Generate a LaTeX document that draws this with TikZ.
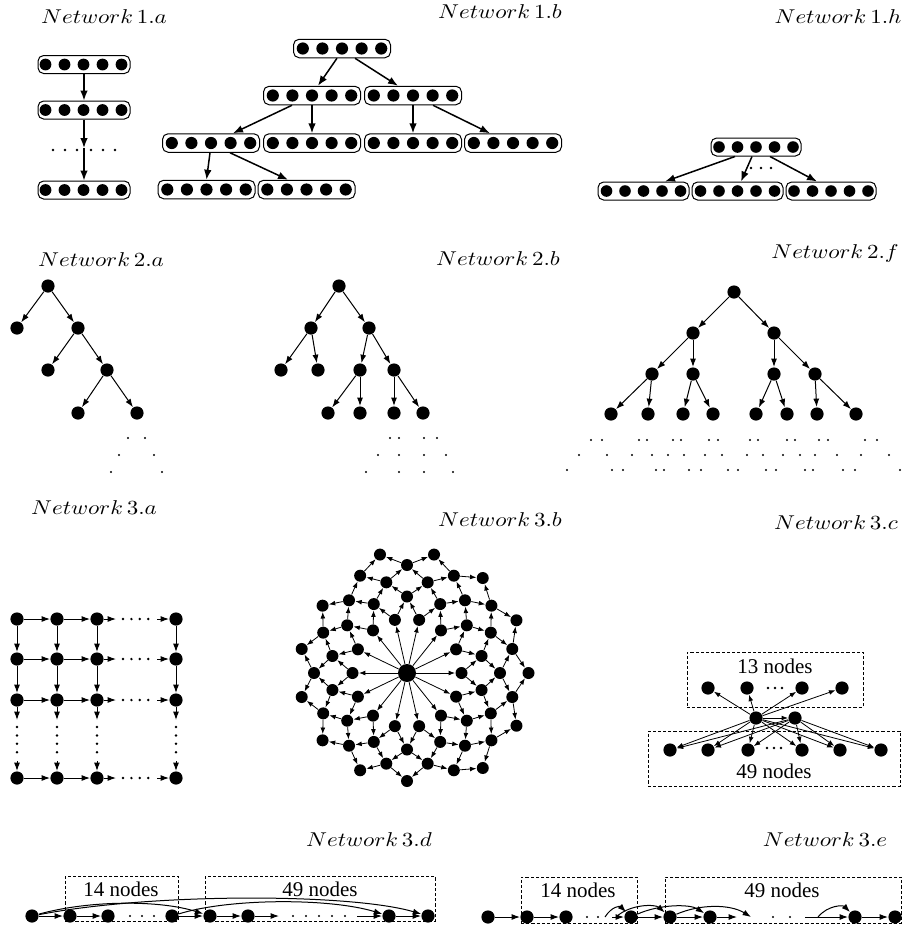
\documentclass[tikz,border=0pt]{standalone}
\usepackage{fontspec}
\newfontfamily\tnr{Liberation Serif}
\usetikzlibrary{arrows.meta}
\newcommand\ttl[1]{\scalebox{1.15}[1]{$#1$}}
\newcommand\dotrow[4]{\foreach \i in {-2,...,2}{\fill ({#1+(\i)*#3},#2) circle[radius=#4];}}
\begin{document}
\begin{tikzpicture}[x=0.5pt,y=-0.5pt,
 title/.style={inner sep=0pt},
 nbox/.style={draw, rounded corners=2.8pt, minimum height=9pt, inner sep=0pt, line width=0.5pt},
 a1/.style={-{Latex[length=5pt,width=3.8pt]}, line width=0.75pt},
 tn/.style={circle, fill, inner sep=0pt, minimum size=6.6pt},
 a2/.style={-{Latex[length=4.2pt,width=3pt]}, line width=0.5pt},
 gn/.style={circle, fill, inner sep=0pt, minimum size=6.6pt},
 a3/.style={-{Latex[length=3.2pt,width=2.4pt]}, line width=0.4pt},
 bn/.style={circle, fill, inner sep=0pt, minimum size=6pt},
 dotline/.style={line width=1.35pt, line cap=round, dash pattern=on 0pt off 4.2pt},
 dbox/.style={draw, dash pattern=on 1.6pt off 1pt, line width=0.4pt, inner sep=0pt},
 lbl/.style={inner sep=0pt, font=\tnr\fontsize{10.5}{12}\selectfont},
]
\useasboundingbox (0,0) rectangle (902,927);

% ---------------- Network 1.a
\node[title] (t1a) at (104,17) {\ttl{Network\,1.a}};
\node[nbox, minimum width=46pt] (a1) at (84,64.5) {};
\node[nbox, minimum width=46pt] (a2) at (84,110) {};
\node[nbox, minimum width=46pt] (a3) at (84,190) {};
\dotrow{83.5}{64.5}{19}{2.95pt}
\dotrow{83.5}{110}{19}{2.95pt}
\dotrow{83.5}{190}{19}{2.95pt}
\coordinate (a23) at (84,148);
\draw[a1] (a1) -- (a2);
\draw[a1] (a2) -- (a23);
\draw[a1] (a23) -- (a3);
\foreach \x in {53,65,77,91,103,115}{\fill (\x,150) circle[radius=0.65pt];}

% ---------------- Network 1.b
\node[title] (t1b) at (500,12) {\ttl{Network\,1.b}};
\foreach \n/\x/\y in {b0/342/48.5, b1/312/95.5, b2/413/95.5, b3/211/143, b4/312/143, b5/413/143, b6/513/143, b7/206.5/189.5, b8/306.5/189.5}{
  \node[nbox, minimum width=48.5pt, minimum height=9.25pt] (\n) at (\x,\y) {};
  \dotrow{\x}{\y}{19.6}{3.05pt}
}
\draw[a1] ([xshift=-2.5pt]b0.south) -- ([xshift=3pt]b1.north);
\draw[a1] ([xshift=6.5pt]b0.south) -- ([xshift=-7.5pt]b2.north);
\draw[a1] ([xshift=-10pt]b1.south) -- ([xshift=11pt]b3.north);
\draw[a1] (b1.south) -- (b4.north);
\draw[a1] (b2.south) -- (b5.north);
\draw[a1] ([xshift=10pt]b2.south) -- ([xshift=-11.5pt]b6.north);
\draw[a1] ([xshift=-0.5pt]b3.south) -- (b7.north);
\draw[a1] ([xshift=9.5pt]b3.south) -- ([xshift=-9.25pt]b8.north);

% ---------------- Network 1.h
\node[title] (t1h) at (838,17) {\ttl{Network\,1.h}};
\node[nbox, minimum width=45pt] (h0) at (756,147) {};
\node[nbox, minimum width=45.5pt] (h1) at (643.5,191) {};
\node[nbox, minimum width=45.5pt] (h2) at (737.5,191) {};
\node[nbox, minimum width=45pt] (h3) at (831,191) {};
\dotrow{756}{147}{18.5}{2.9pt}
\dotrow{643.5}{191}{18.5}{2.9pt}
\dotrow{737.5}{191}{18.5}{2.9pt}
\dotrow{831}{191}{18.5}{2.9pt}
\draw[a1] ([xshift=-10.5pt]h0.south) -- ([xshift=10.75pt]h1.north);
\draw[a1] ([xshift=-2pt]h0.south) -- ([xshift=1.75pt]h2.north);
\draw[a1] ([xshift=7pt]h0.south) -- ([xshift=-7pt]h3.north);
\foreach \x in {751,761,771}{\fill (\x,168) circle[radius=0.65pt];}

% ---------------- Network 2.a
\node[title] (t2a) at (101,260) {\ttl{Network\,2.a}};
\foreach \n/\x/\y in {A0/48/286, A1/17/328, A2/78/328, A3/48/370, A4/107/370, A5/78/413, A6/137/413}{
  \node[tn] (\n) at (\x,\y) {};}
\foreach \s/\t in {A0/A1, A0/A2, A2/A3, A2/A4, A4/A5, A4/A6}{\draw[a2] (\s) -- (\t);}
\foreach \x/\y in {128/438,145/438,119/455,154/455,111/472,162/472}{\fill (\x,\y) circle[radius=0.55pt];}

% ---------------- Network 2.b
\node[title] (t2b) at (498,259) {\ttl{Network\,2.b}};
\foreach \n/\x/\y in {B0/339/286, B1/311/328, B2/369/328, B3/281/370, B4/318/370, B5/360/370, B6/394/370, B7/328/413, B8/360/413, B9/394/413, B10/423/413}{
  \node[tn] (\n) at (\x,\y) {};}
\foreach \s/\t in {B0/B1, B0/B2, B1/B3, B1/B4, B2/B5, B2/B6, B5/B7, B5/B8, B6/B9, B6/B10}{\draw[a2] (\s) -- (\t);}
\foreach \x/\y in {390/438,399/438,424/438,437/438, 378/455,399/455,424/455,446/455, 366/472,399/472,424/472,453/472}{\fill (\x,\y) circle[radius=0.55pt];}

% ---------------- Network 2.f
\node[title] (t2f) at (835,253) {\ttl{Network\,2.f}};
\foreach \n/\x/\y in {F0/734/292, F1/693/333, F2/774/333, F3/652/374, F4/693/374, F5/774/374, F6/815/374,
  F7/611/414, F8/648/414, F9/683/414, F10/713/414, F11/756/414, F12/787/414, F13/817/414, F14/856/414}{
  \node[tn] (\n) at (\x,\y) {};}
\foreach \s/\t in {F0/F1, F0/F2, F1/F3, F1/F4, F2/F5, F2/F6, F3/F7, F3/F8, F4/F9, F4/F10, F5/F11, F5/F12, F6/F13, F6/F14}{\draw[a2] (\s) -- (\t);}
\foreach \x in {591,602,639,647,673,681,709,718,750,758,787,795,819,828,865,877}{\fill (\x,440) circle[radius=0.55pt];}
\foreach \x in {579,607,632,652,668,684,705,722,747,763,783,800,815,837,861,889}{\fill (\x,455) circle[radius=0.55pt];}
\foreach \x in {567,612,623,656,664,689,701,728,738,766,776,805,813,843,855,900}{\fill (\x,470) circle[radius=0.55pt];}

% ---------------- Network 3.a
\node[title] (t3a) at (94,508) {\ttl{Network\,3.a}};
\foreach \x [count=\i] in {17,57,97,176}{
  \foreach \y [count=\j] in {619,659,700,778}{
    \node[gn] (g\i\j) at (\x,\y) {};}}
\foreach \y [count=\j] in {619,659,700,778}{
  \draw[a2] (g1\j) -- (g2\j);
  \draw[a2] (g2\j) -- (g3\j);
  \coordinate (hs\j) at (116,\y);
  \coordinate (he\j) at (157,\y);
  \draw[a2] (g3\j) -- (hs\j);
  \draw[dotline] (123,\y) -- (152,\y);
  \draw[a2] (he\j) -- (g4\j);
}
\foreach \x [count=\i] in {17,57,97,176}{
  \draw[a2] (g\i1) -- (g\i2);
  \draw[a2] (g\i2) -- (g\i3);
  \coordinate (vs\i) at (\x,720);
  \coordinate (ve\i) at (\x,761);
  \draw[a2] (g\i3) -- (vs\i);
  \draw[dotline] (\x,727) -- (\x,757);
  \draw[a2] (ve\i) -- (g\i4);
}

% ---------------- Network 3.b
\node[title] (t3b) at (500,520) {\ttl{Network\,3.b}};
\node[circle, fill, inner sep=0pt, minimum size=9pt] (c3b) at (407,673) {};
\foreach \k in {0,...,13}{
  \pgfmathsetmacro\a{\k*360/14}
  \pgfmathsetmacro\b{(\k+0.5)*360/14}
  \node[bn] (p1-\k) at ({407+54.5*cos(\a)},{673-54.5*sin(\a)}) {};
  \node[bn] (p2-\k) at ({407+76.5*cos(\b)},{673-76.5*sin(\b)}) {};
  \node[bn] (p3-\k) at ({407+93*cos(\a)},{673-93*sin(\a)}) {};
  \node[bn] (p4-\k) at ({407+108*cos(\b)},{673-108*sin(\b)}) {};
}
\foreach \k in {12,13,0,1,2,3,4}{
  \pgfmathsetmacro\a{\k*360/14}
  \node[bn] (p5-\k) at ({407+121.5*cos(\a)},{673-121.5*sin(\a)}) {};
}
\foreach \k in {0,...,13}{
  \pgfmathtruncatemacro\kp{mod(\k+1,14)}
  \pgfmathtruncatemacro\km{mod(\k+13,14)}
  \draw[a3] (c3b) -- (p1-\k);
  \draw[a3] (p1-\k) -- (p2-\k);
  \draw[a3] (p1-\k) -- (p2-\km);
  \draw[a3] (p2-\k) -- (p3-\k);
  \draw[a3] (p2-\k) -- (p3-\kp);
  \draw[a3] (p3-\k) -- (p4-\k);
  \draw[a3] (p3-\k) -- (p4-\km);
}
\foreach \s/\t in {11/12, 12/12, 12/13, 13/13, 13/0, 0/0, 0/1, 1/1, 1/2, 2/2, 2/3, 3/3, 3/4, 4/4}{
  \draw[a3] (p4-\s) -- (p5-\t);}

% ---------------- Network 3.c
\node[title] (t3c) at (836,523) {\ttl{Network\,3.c}};
\node[dbox, minimum width=88pt, minimum height=27.5pt] (ubox) at (775,679.5) {};
\node[dbox, minimum width=126pt, minimum height=27.5pt] (lbox) at (774,758.5) {};
\node[lbl] (u13) at (775,666) {13 nodes};
\node[lbl] (l49) at (774,771) {49 nodes};
\foreach \n/\x in {u1/708, u2/747, u3/802, u4/842}{\node[gn] (\n) at (\x,688) {};}
\foreach \n/\x in {l1/670, l2/708, l3/748, l4/802, l5/840, l6/881}{\node[gn] (\n) at (\x,750) {};}
\node[gn] (cA) at (756,718) {};
\node[gn] (cB) at (795,718) {};
\foreach \x in {768,775,782}{\fill (\x,688) circle[radius=0.7pt];}
\foreach \x in {767,774,781}{\fill (\x,748) circle[radius=0.7pt];}
\foreach \t in {u1,u2,u3,u4,cB,l1,l2,l3,l4,l5,l6}{\draw[a3] (cA) -- (\t);}
\foreach \t in {l1,l2,l3,l4,l5,l6}{\draw[a3] (cB) -- (\t);}

% ---------------- Network 3.d
\node[title] (t3d) at (369,840) {\ttl{Network\,3.d}};
\node[dbox, minimum width=56.5pt, minimum height=22.5pt] (dbx1) at (121.5,898.5) {};
\node[dbox, minimum width=115pt, minimum height=22.5pt] (dbx2) at (320,898.5) {};
\node[lbl] (d14) at (121,889) {14 nodes};
\node[lbl] (d49) at (320,889) {49 nodes};
\foreach \n/\x in {d0/32, d1/70, d2/108, d3/172, d4/210, d5/248, d6/389, d7/428}{\node[gn] (\n) at (\x,916) {};}
\coordinate (dd1) at (279,916);
\coordinate (dd2) at (357,916);
\draw[a2] (d0) -- (d1);
\draw[a2] (d1) -- (d2);
\draw[a2] (d3) -- (d4);
\draw[a2] (d4) -- (d5);
\draw[a2] (d5) -- (dd1);
\draw[a2] (dd2) -- (d6);
\draw[a2] (d6) -- (d7);
\foreach \x in {130,142,154,293,306,319,332,345}{\fill (\x,916) circle[radius=0.55pt];}
\draw[a2] (d0) .. controls (90,900) and (160,900) .. (d4);
\draw[a2] (d0) .. controls (150,893) and (350,893) .. (d7);
\draw[a2] (d3) .. controls (230,898) and (330,898) .. (d6);

% ---------------- Network 3.e
\node[title] (t3e) at (825,840) {\ttl{Network\,3.e}};
\node[dbox, minimum width=58pt, minimum height=23pt] (ebx1) at (579,900) {};
\node[dbox, minimum width=118pt, minimum height=23pt] (ebx2) at (783,900) {};
\node[lbl] (e14) at (578,890) {14 nodes};
\node[lbl] (e49) at (782,890) {49 nodes};
\foreach \n/\x in {e0/488, e1/527, e2/566, e3/631, e4/670, e5/710, e6/855, e7/895}{\node[gn] (\n) at (\x,917) {};}
\coordinate (ec1) at (612,917);
\coordinate (ec2) at (737,917);
\coordinate (ec2b) at (751,917);
\coordinate (ec3) at (805,917);
\draw[a2] (e0) -- (e1);
\draw[a2] (e1) -- (e2);
\draw[a2] (ec1) -- (e3);
\draw[a2] (e3) -- (e4);
\draw[a2] (e4) -- (e5);
\draw[a2] (e5) -- (ec2);
\draw[a2] (ec3) -- (e6);
\draw[a2] (e6) -- (e7);
\foreach \x in {587,598,773,790}{\fill (\x,917) circle[radius=0.55pt];}
\coordinate (ea1) at (605,917);
\coordinate (ea0) at (616,917);
\draw[a2] (ea1) .. controls (612,906) and (620,906) .. (e3);
\draw[a2] (ea0) .. controls (630,904) and (655,904) .. (e4);
\draw[a2] (e3) .. controls (660,904) and (690,904) .. (e5);
\draw[a2] (e4) .. controls (700,904) and (730,904) .. (ec2b);
\coordinate (ea2) at (818,917);
\draw[a2] (ea2) .. controls (828,905) and (843,905) .. (e6);
\end{tikzpicture}
\end{document}
